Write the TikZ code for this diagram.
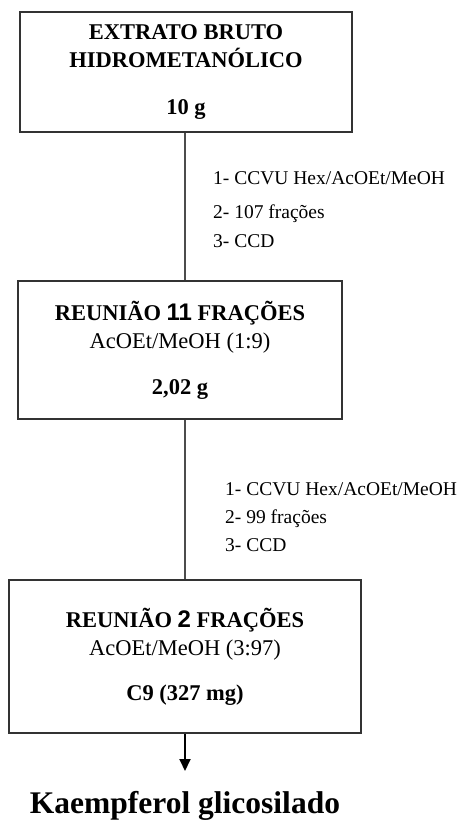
\documentclass[tikz,border=0pt]{standalone}
\usepackage{fontspec}
\setmainfont{Liberation Serif}
\newfontfamily\numfont{Liberation Sans}
\usetikzlibrary{arrows.meta}

\begin{document}
\begin{tikzpicture}
[x=1pt,y=-1pt,
  boxdecorate/.style={shape=rectangle,draw=black!80,line width=1.2pt,align=center,
    font=\fontsize{22.5}{28}\selectfont\bfseries},
  stepdecorate/.style={anchor=base west,inner sep=0pt,font=\fontsize{19.5}{24}\selectfont},
  linedecorate/.style={-,draw=black!70,line width=1.2pt}]
\useasboundingbox (0,0) rectangle (458,821);
%% boxes
\node (extrato) at (186,72) [boxdecorate,minimum width=332pt,minimum height=120pt]
  {EXTRATO BRUTO\\HIDROMETANÓLICO\\[19pt]10 g};
\node (reuniao1) at (180,350) [boxdecorate,minimum width=324pt,minimum height=138pt]
  {REUNIÃO {\numfont\fontsize{24}{28}\selectfont 11} FRAÇÕES\\{\mdseries AcOEt/MeOH (1:9)}\\[18pt]2,02 g};
\node (reuniao2) at (185,656.5) [boxdecorate,minimum width=352pt,minimum height=153pt]
  {REUNIÃO {\numfont\fontsize{24}{28}\selectfont 2} FRAÇÕES\\{\mdseries AcOEt/MeOH (3:97)}\\[17pt]C9 (327 mg)};
\node (produto) at (185,813) [anchor=base,inner sep=0pt,font=\fontsize{31.5}{36}\selectfont\bfseries]
  {Kaempferol glicosilado};
\coordinate (ponta) at (185,771);
%% steps
\foreach \nodename/\x/\y/\steptext in {s1/213/184.5/{1- CCVU Hex/AcOEt/MeOH},
  s2/213/218.5/{2- 107 frações}, s3/213/247.5/{3- CCD},
  t1/225/495.5/{1- CCVU Hex/AcOEt/MeOH},
  t2/225/523.5/{2- 99 frações}, t3/225/551.5/{3- CCD}}
{
  \node (\nodename) at (\x,\y) [stepdecorate] {\steptext};
}
%% lines
\draw[linedecorate] (extrato.south -| ponta) -- (reuniao1.north -| ponta);
\draw[linedecorate] (reuniao1.south -| ponta) -- (reuniao2.north -| ponta);
\draw[linedecorate,draw=black,line width=1.8pt,-{Triangle[length=12pt,width=11pt]}]
  (reuniao2.south -| ponta) -- (ponta);
\end{tikzpicture}
\end{document}
